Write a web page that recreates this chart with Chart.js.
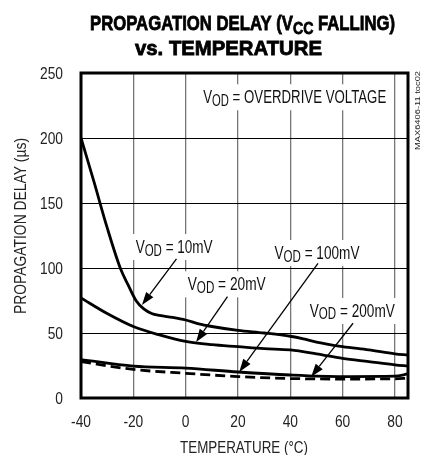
<!DOCTYPE html>
<html>
<head>
<meta charset="utf-8">
<script src="https://cdn.jsdelivr.net/npm/chart.js@4/dist/chart.umd.min.js"></script>
<style>
	html, body { margin: 0; padding: 0; background: #fff; }
	canvas { display: block; }
</style>
</head>
<body>
<canvas id="chart-prop-delay" width="421" height="455"></canvas>
<script>
// Data: temperature (°C) vs delay (µs)
const TEMP_10MV = [-40, -35, -30, -25, -22, -19, -16, -13, -10, -5, 0, 5, 10, 20, 30, 40, 45, 50, 60, 70, 80, 85];
const DELAY_10MV = [200, 166, 131, 100, 87, 75, 68.5, 65, 63.5, 62, 60, 57, 55, 52, 50, 47.5, 45.5, 43, 39.5, 37, 34, 33];

const TEMP_20MV = [-40, -30, -20, -10, 0, 10, 20, 30, 40, 50, 60, 70, 80, 85];
const DELAY_20MV = [77, 65, 55, 48.5, 43.5, 41, 39.5, 38, 37, 34, 30.5, 28, 25.5, 24.5];

const TEMP_100MV = [-40, -20, 0, 20, 40, 60, 80, 85];
const DELAY_100MV = [29.5, 24.5, 23, 20, 17.7, 16.5, 16.8, 18.5];

const TEMP_200MV = [-40, -20, 0, 20, 40, 60, 80, 85];
const DELAY_200MV = [28, 22, 19, 16.5, 15, 14.6, 14.8, 15.2];

// Axis ticks
const X_TICKS = [-40, -20, 0, 20, 40, 60, 80];
const Y_TICKS = [0, 50, 100, 150, 200, 250];

// Annotations: text ({..} = subscript), label centre, arrow start, arrow tip (data units)
const LABEL_TEXT = ["V{OD} = OVERDRIVE VOLTAGE", "V{OD} = 10mV", "V{OD} = 20mV", "V{OD} = 100mV", "V{OD} = 200mV"];
const LABEL_AT = [[41.7, 232.1], [-4.4, 116.9], [15.7, 88.2], [50.2, 112.3], [63.7, 67.7]];
const ARROW_FROM = [null, [-3.5, 107], [16, 78], [50.6, 103.6], [64, 57.5]];
const ARROW_TO = [null, [-16.7, 71.5], [4, 43], [20.5, 20], [48, 16.4]];

// text widths in the reference (px), used to squeeze the regular face into a condensed look
const LABEL_WIDTH = [183, 77, 78, 85, 85];
const CONDENSE = 0.86;

const FONT = '"Liberation Sans", Arial, Helvetica, sans-serif';

const toPoints = (xs, ys) => xs.map((x, i) => ({ x: x, y: ys[i] }));

// Draw text with {..} subscript segments; align "center" | "right"; squeeze to width or by factor
const drawRich = (ctx, text, x, y, size, weight, opts = {}) => {
	const parts = text.split(/(\{[^}]*\})/).filter((p) => p.length);
	const subScale = opts.subScale || 0.85;
	const subDrop = opts.subDrop || size * 0.16;
	const segs = parts.map((p) => {
		const sub = p[0] === "{";
		const t = sub ? p.slice(1, -1) : p;
		const fs = sub ? size * subScale : size;
		ctx.font = weight + " " + fs + "px " + FONT;
		return { t: t, sub: sub, fs: fs, w: ctx.measureText(t).width };
	});
	const natural = segs.reduce((a, s) => a + s.w, 0);
	const sx = opts.width ? opts.width / natural : (opts.sx || CONDENSE);
	const total = natural * sx;
	ctx.save();
	const startX = opts.align === "right" ? x - total : x - total / 2;
	ctx.translate(startX, y);
	ctx.scale(sx, 1);
	ctx.textAlign = "left";
	ctx.textBaseline = "alphabetic";
	let cx = 0;
	segs.forEach((s) => {
		ctx.font = weight + " " + s.fs + "px " + FONT;
		ctx.fillText(s.t, cx, s.sub ? subDrop : 0);
		if (opts.stroke) {
			ctx.lineWidth = opts.stroke;
			ctx.strokeStyle = ctx.fillStyle;
			ctx.strokeText(s.t, cx, s.sub ? subDrop : 0);
		}
		cx += s.w;
	});
	ctx.restore();
	return total;
};

const annotations = {
	id: "annotations",
	beforeDatasetsDraw(chart) {
		const { ctx, scales } = chart;
		ctx.save();
		LABEL_TEXT.forEach((txt, i) => {
			const px = scales.x.getPixelForValue(LABEL_AT[i][0]);
			const py = scales.y.getPixelForValue(LABEL_AT[i][1]);
			const w = LABEL_WIDTH[i];
			ctx.fillStyle = "#fff";
			ctx.fillRect(px - w / 2 - 4, py - 12, w + 8, 26);
			ctx.fillStyle = "#111";
			drawRich(ctx, txt, px, py + 7, 19, "normal", { width: w, subDrop: 2.5 });
		});
		ctx.restore();
	},
	afterDatasetsDraw(chart) {
		const { ctx, scales, chartArea } = chart;
		ctx.save();
		// arrows
		ctx.strokeStyle = "#000";
		ctx.fillStyle = "#000";
		ARROW_FROM.forEach((from, i) => {
			if (!from) return;
			const x1 = scales.x.getPixelForValue(from[0]);
			const y1 = scales.y.getPixelForValue(from[1]);
			const x2 = scales.x.getPixelForValue(ARROW_TO[i][0]);
			const y2 = scales.y.getPixelForValue(ARROW_TO[i][1]);
			const ang = Math.atan2(y2 - y1, x2 - x1);
			const len = 13;
			const half = 4.5;
			const bx = x2 - len * Math.cos(ang);
			const by = y2 - len * Math.sin(ang);
			ctx.lineWidth = 1.3;
			ctx.beginPath();
			ctx.moveTo(x1, y1);
			ctx.lineTo(bx, by);
			ctx.stroke();
			ctx.beginPath();
			ctx.moveTo(x2, y2);
			ctx.lineTo(bx + half * Math.sin(ang), by - half * Math.cos(ang));
			ctx.lineTo(bx - half * Math.sin(ang), by + half * Math.cos(ang));
			ctx.closePath();
			ctx.fill();
		});
		// plot frame
		ctx.lineWidth = 3;
		ctx.strokeRect(chartArea.left, chartArea.top, chartArea.right - chartArea.left, chartArea.bottom - chartArea.top);

		// tick labels, placed through the scales
		ctx.fillStyle = "#222";
		scales.x.ticks.forEach((t) => {
			drawRich(ctx, String(t.value), scales.x.getPixelForValue(t.value), 427, 16, "normal");
		});
		scales.y.ticks.forEach((t) => {
			drawRich(ctx, String(t.value), 63, scales.y.getPixelForValue(t.value) + 6, 16, "normal", { align: "right" });
		});

		// titles
		ctx.fillStyle = "#000";
		drawRich(ctx, "PROPAGATION DELAY (V{CC} FALLING)", 242.5, 29.5, 20.5, "bold", { width: 305, subDrop: 4, stroke: 0.8 });
		drawRich(ctx, "vs. TEMPERATURE", 228.5, 55, 20.5, "bold", { width: 187, stroke: 0.8 });
		ctx.fillStyle = "#222";
		drawRich(ctx, "TEMPERATURE (°C)", 244, 453, 16.5, "normal", { width: 128 });
		ctx.save();
		ctx.translate(26, 226);
		ctx.rotate(-Math.PI / 2);
		drawRich(ctx, "PROPAGATION DELAY (µs)", 0, 0, 17, "normal", { width: 176 });
		ctx.restore();
		ctx.save();
		ctx.translate(420, 110.5);
		ctx.rotate(-Math.PI / 2);
		drawRich(ctx, "MAX6406-11 toc02", 0, 0, 8, "normal", { width: 79 });
		ctx.restore();
		ctx.restore();
	},
};

const lineStyle = (dash) => ({
	borderColor: "#000",
	borderWidth: 2.8,
	borderDash: dash,
	pointRadius: 0,
	fill: false,
	cubicInterpolationMode: "monotone",
});

const CHART_DATA = {
	datasets: [
		{ label: "10mV", data: toPoints(TEMP_10MV, DELAY_10MV), ...lineStyle([]) },
		{ label: "20mV", data: toPoints(TEMP_20MV, DELAY_20MV), ...lineStyle([]) },
		{ label: "100mV", data: toPoints(TEMP_100MV, DELAY_100MV), ...lineStyle([]) },
		{ label: "200mV", data: toPoints(TEMP_200MV, DELAY_200MV), ...lineStyle([10, 5]) },
	],
};

const CHART_CONFIG = {
	type: "line",
	data: CHART_DATA,
	options: {
		responsive: false,
		animation: false,
		devicePixelRatio: 1,
		layout: {
			padding: { top: 73, right: 13, left: 0, bottom: 0 },
		},
		scales: {
			x: {
				type: "linear",
				min: -40,
				max: 85,
				border: { display: false },
				grid: { color: "#777", lineWidth: 1.3, drawTicks: false },
				afterBuildTicks: (scale) => {
					scale.ticks = X_TICKS.map((v) => ({ value: v }));
				},
				afterFit: (scale) => {
					scale.height = 57;
				},
				ticks: { display: false },
			},
			y: {
				min: 0,
				max: 250,
				border: { display: false },
				grid: { color: "#000", lineWidth: 1, drawTicks: false },
				afterBuildTicks: (scale) => {
					scale.ticks = Y_TICKS.map((v) => ({ value: v }));
				},
				afterFit: (scale) => {
					scale.width = 81;
				},
				ticks: { display: false },
			},
		},
		plugins: {
			legend: { display: false },
			tooltip: { enabled: false },
		},
	},
	plugins: [annotations],
};

new Chart(document.getElementById("chart-prop-delay"), CHART_CONFIG);
</script>
</body>
</html>
